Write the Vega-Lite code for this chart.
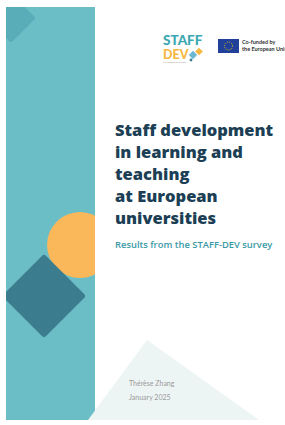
{
  "$schema": "https://vega.github.io/schema/vega-lite/v6.json",
  "width": 285,
  "height": 425,
  "padding": 0,
  "autosize": {"type": "none"},
  "background": "#ffffff",
  "config": {"view": {"stroke": null}, "axis": {"disable": true}},
  "encoding": {
    "x": {"field": "x", "type": "quantitative", "scale": {"domain": [0, 285], "nice": false, "zero": false}, "axis": null},
    "y": {"field": "y", "type": "quantitative", "scale": {"domain": [0, 425], "nice": false, "zero": false, "reverse": true}, "axis": null}
  },
  "layer": [
    {
      "data": {"values": [{"shape": "band", "x": 6, "x2": 95, "y": 7, "y2": 420}]},
      "mark": {"type": "rect", "color": "#6bbec6"},
      "encoding": {"x2": {"field": "x2"}, "y2": {"field": "y2"}}
    },
    {
      "data": {"values": [{"shape": "corner diamond", "x": 11, "y": 18}]},
      "mark": {"type": "point", "shape": "diamond", "filled": true, "size": 1936, "fill": "#58adb9", "stroke": "#58adb9", "strokeWidth": 4, "strokeJoin": "round", "opacity": 1}
    },
    {
      "data": {"values": [{"shape": "circle", "x": 80, "y": 245}]},
      "mark": {"type": "point", "shape": "circle", "filled": true, "size": 4356, "fill": "#fbb85b", "opacity": 1}
    },
    {
      "data": {"values": [{"shape": "diamond", "x": 44, "y": 296}]},
      "mark": {"type": "point", "shape": "diamond", "filled": true, "size": 5776, "fill": "#3b7d8e", "stroke": "#3b7d8e", "strokeWidth": 6, "strokeJoin": "round", "opacity": 1}
    },
    {
      "data": {"values": [
        {"shape": "left margin", "x": 0, "x2": 6, "y": 0, "y2": 425},
        {"shape": "top margin", "x": 0, "x2": 285, "y": 0, "y2": 7},
        {"shape": "circle cut", "x": 95, "x2": 118, "y": 205, "y2": 285}
      ]},
      "mark": {"type": "rect", "color": "#ffffff"},
      "encoding": {"x2": {"field": "x2"}, "y2": {"field": "y2"}}
    },
    {
      "data": {"values": [
        {"x": 88, "y": 420, "y2": 425},
        {"x": 147, "y": 340, "y2": 425},
        {"x": 259, "y": 420, "y2": 425}
      ]},
      "mark": {"type": "area", "color": "#edf4f4", "opacity": 1},
      "encoding": {"y2": {"field": "y2"}}
    },
    {
      "data": {"values": [{"shape": "bottom margin", "x": 0, "x2": 285, "y": 420, "y2": 425}]},
      "mark": {"type": "rect", "color": "#ffffff"},
      "encoding": {"x2": {"field": "x2"}, "y2": {"field": "y2"}}
    },
    {
      "data": {"values": [{"x": 163, "y": 44.5, "t": "STAFF"}]},
      "mark": {"type": "text", "align": "left", "baseline": "alphabetic", "font": "Lato", "fontWeight": 900, "fontSize": 13.5, "color": "#3ba7b3"},
      "encoding": {"text": {"field": "t"}}
    },
    {
      "data": {"values": [{"x": 163, "y": 59, "t": "DEV"}]},
      "mark": {"type": "text", "align": "left", "baseline": "alphabetic", "font": "Lato", "fontWeight": 900, "fontSize": 12.5, "color": "#f5b841"},
      "encoding": {"text": {"field": "t"}}
    },
    {
      "data": {"values": [{"x": 163, "y": 63.5, "t": "Co-funded by the EU"}]},
      "mark": {"type": "text", "align": "left", "baseline": "alphabetic", "font": "Lato", "fontSize": 2.5, "color": "#999999"},
      "encoding": {"text": {"field": "t"}}
    },
    {
      "data": {"values": [{"x": 199, "y": 51.5}]},
      "mark": {"type": "point", "shape": "diamond", "filled": true, "size": 60, "fill": "#f5b841", "opacity": 1}
    },
    {
      "data": {"values": [{"x": 193, "y": 55}]},
      "mark": {"type": "point", "shape": "diamond", "filled": true, "size": 70, "fill": "#6cb8d3", "opacity": 1}
    },
    {
      "data": {"values": [{"x": 191, "y": 60}]},
      "mark": {"type": "point", "shape": "circle", "filled": true, "size": 8, "fill": "#3b7d8e", "opacity": 1}
    },
    {
      "data": {"values": [{"x": 218, "x2": 239, "y": 39, "y2": 53}]},
      "mark": {"type": "rect", "color": "#20409a"},
      "encoding": {"x2": {"field": "x2"}, "y2": {"field": "y2"}}
    },
    {
      "data": {"values": [{"x": 228.5, "y": 46}]},
      "mark": {"type": "point", "shape": "circle", "filled": false, "size": 64, "stroke": "#ffdd00", "strokeWidth": 1, "strokeDash": [0.8, 1.3], "opacity": 1}
    },
    {
      "data": {"values": [
        {"x": 242, "y": 44, "t": "Co-funded by"},
        {"x": 242, "y": 50.5, "t": "the European Union"}
      ]},
      "mark": {"type": "text", "align": "left", "baseline": "alphabetic", "font": "Lato", "fontWeight": 700, "fontSize": 5.5, "color": "#333333"},
      "encoding": {"text": {"field": "t"}}
    },
    {
      "data": {"values": [
        {"x": 115, "y": 136, "t": "Staff development"},
        {"x": 115, "y": 158, "t": "in learning and"},
        {"x": 115, "y": 180, "t": "teaching"},
        {"x": 115, "y": 202, "t": "at European"},
        {"x": 115, "y": 224, "t": "universities"}
      ]},
      "mark": {"type": "text", "align": "left", "baseline": "alphabetic", "font": "Open Sans", "fontWeight": 800, "fontSize": 16.5, "color": "#1c3f55"},
      "encoding": {"text": {"field": "t"}}
    },
    {
      "data": {"values": [{"x": 115, "y": 248, "t": "Results from the STAFF-DEV survey"}]},
      "mark": {"type": "text", "align": "left", "baseline": "alphabetic", "font": "Open Sans", "fontWeight": 600, "fontSize": 9.4, "color": "#3a99a6"},
      "encoding": {"text": {"field": "t"}}
    },
    {
      "data": {"values": [
        {"x": 129, "y": 386, "t": "Thérèse Zhang"},
        {"x": 129, "y": 400, "t": "January 2025"}
      ]},
      "mark": {"type": "text", "align": "left", "baseline": "alphabetic", "font": "Lato", "fontSize": 7, "color": "#9a9a9a"},
      "encoding": {"text": {"field": "t"}}
    }
  ]
}
